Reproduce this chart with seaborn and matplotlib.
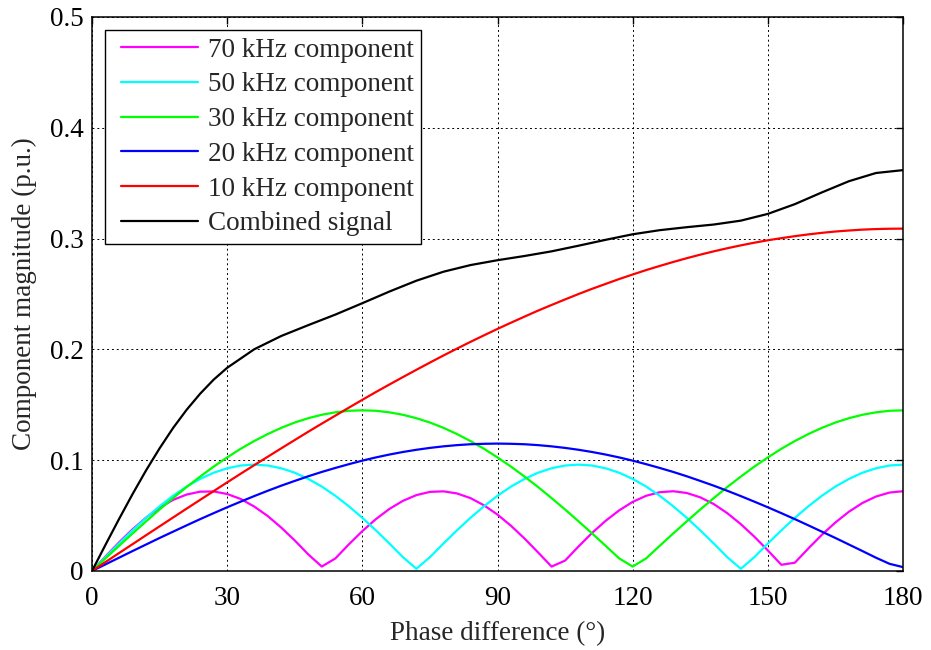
import numpy as np
import pandas as pd
import matplotlib
matplotlib.use("Agg")
import matplotlib.pyplot as plt
from matplotlib.lines import Line2D
from matplotlib.legend_handler import HandlerLine2D
import seaborn as sns

# ---- data ----
phase = list(range(0, 181, 3))

mag_10k = [0, 0.0081, 0.0162, 0.0242, 0.0323, 0.0403, 0.0483, 0.0563, 0.0642, 0.0721,
           0.0800, 0.0878, 0.0955, 0.1031, 0.1107, 0.1182, 0.1257, 0.1330, 0.1402, 0.1474,
           0.1545, 0.1615, 0.1683, 0.1750, 0.1816, 0.1881, 0.1945, 0.2007, 0.2068, 0.2127,
           0.2185, 0.2241, 0.2296, 0.2350, 0.2401, 0.2451, 0.2500, 0.2547, 0.2591, 0.2635,
           0.2676, 0.2716, 0.2753, 0.2789, 0.2823, 0.2855, 0.2885, 0.2913, 0.2939, 0.2963,
           0.2985, 0.3004, 0.3022, 0.3038, 0.3052, 0.3064, 0.3073, 0.3081, 0.3086, 0.3089,
           0.3090]

mag_20k = [0, 0.0060, 0.0120, 0.0180, 0.0239, 0.0298, 0.0355, 0.0412, 0.0468, 0.0522,
           0.0575, 0.0626, 0.0676, 0.0724, 0.0770, 0.0813, 0.0855, 0.0894, 0.0930, 0.0964,
           0.0996, 0.1025, 0.1051, 0.1074, 0.1094, 0.1111, 0.1125, 0.1136, 0.1144, 0.1148,
           0.1150, 0.1148, 0.1144, 0.1136, 0.1125, 0.1111, 0.1094, 0.1074, 0.1051, 0.1025,
           0.0996, 0.0964, 0.0930, 0.0894, 0.0855, 0.0813, 0.0770, 0.0724, 0.0676, 0.0626,
           0.0575, 0.0522, 0.0468, 0.0412, 0.0355, 0.0298, 0.0239, 0.0180, 0.0120, 0.0065,
           0.0035]

mag_30k = [0, 0.0114, 0.0227, 0.0339, 0.0448, 0.0555, 0.0658, 0.0758, 0.0852, 0.0942,
           0.1025, 0.1103, 0.1173, 0.1236, 0.1292, 0.1340, 0.1379, 0.1410, 0.1432, 0.1446,
           0.1450, 0.1446, 0.1432, 0.1410, 0.1379, 0.1340, 0.1292, 0.1236, 0.1173, 0.1103,
           0.1025, 0.0942, 0.0852, 0.0758, 0.0658, 0.0555, 0.0448, 0.0339, 0.0227, 0.0114,
           0.0040, 0.0114, 0.0227, 0.0339, 0.0448, 0.0555, 0.0658, 0.0758, 0.0852, 0.0942,
           0.1025, 0.1103, 0.1173, 0.1236, 0.1292, 0.1340, 0.1379, 0.1410, 0.1432, 0.1446,
           0.1450]

mag_50k = [0, 0.0125, 0.0248, 0.0367, 0.0480, 0.0584, 0.0679, 0.0762, 0.0831, 0.0887,
           0.0927, 0.0952, 0.0960, 0.0952, 0.0927, 0.0887, 0.0831, 0.0762, 0.0679, 0.0584,
           0.0480, 0.0367, 0.0248, 0.0125, 0.0020, 0.0125, 0.0248, 0.0367, 0.0480, 0.0584,
           0.0679, 0.0762, 0.0831, 0.0887, 0.0927, 0.0952, 0.0960, 0.0952, 0.0927, 0.0887,
           0.0831, 0.0762, 0.0679, 0.0584, 0.0480, 0.0367, 0.0248, 0.0125, 0.0020, 0.0125,
           0.0248, 0.0367, 0.0480, 0.0584, 0.0679, 0.0762, 0.0831, 0.0887, 0.0927, 0.0952,
           0.0960]

mag_70k = [0, 0.0131, 0.0258, 0.0376, 0.0482, 0.0571, 0.0642, 0.0690, 0.0716, 0.0718,
           0.0695, 0.0650, 0.0582, 0.0496, 0.0392, 0.0276, 0.0150, 0.0040, 0.0113, 0.0240,
           0.0360, 0.0468, 0.0560, 0.0633, 0.0685, 0.0714, 0.0719, 0.0700, 0.0658, 0.0593,
           0.0509, 0.0408, 0.0293, 0.0168, 0.0040, 0.0094, 0.0222, 0.0344, 0.0453, 0.0547,
           0.0624, 0.0679, 0.0711, 0.0720, 0.0704, 0.0665, 0.0604, 0.0522, 0.0423, 0.0310,
           0.0186, 0.0056, 0.0075, 0.0204, 0.0327, 0.0438, 0.0535, 0.0614, 0.0672, 0.0708,
           0.0720]

phase_comb = [0, 3, 6, 9, 12, 15, 18, 21, 24, 27, 30, 36, 42, 48, 54, 60, 66, 72, 78, 84,
              90, 96, 102, 108, 114, 120, 126, 132, 138, 144, 150, 156, 162, 168, 174, 180]
mag_comb = [0, 0.0237, 0.0469, 0.0694, 0.0908, 0.1107, 0.1291, 0.1455, 0.1600, 0.1727,
            0.1834, 0.2001, 0.2121, 0.2219, 0.2314, 0.2417, 0.2522, 0.2620, 0.2701, 0.2761,
            0.2805, 0.2843, 0.2885, 0.2936, 0.2989, 0.3039, 0.3076, 0.3103, 0.3127, 0.3162,
            0.3223, 0.3311, 0.3417, 0.3518, 0.3592, 0.3618]

labels = ["70 kHz component", "50 kHz component", "30 kHz component",
          "20 kHz component", "10 kHz component", "Combined signal"]
colors = ["#FF00FF", "#00FFFF", "#00FF00", "#0000FF", "#FF0000", "#000000"]
x_ticks = [0, 30, 60, 90, 120, 150, 180]
y_ticks = [0, 0.1, 0.2, 0.3, 0.4, 0.5]
y_tick_labels = ["0", "0.1", "0.2", "0.3", "0.4", "0.5"]

# ---- build tidy table ----
frames = []
for lab, vals in zip(labels[:5], [mag_70k, mag_50k, mag_30k, mag_20k, mag_10k]):
    frames.append(pd.DataFrame({"phase": phase, "mag": vals, "series": lab}))
frames.append(pd.DataFrame({"phase": phase_comb, "mag": mag_comb, "series": labels[5]}))
df = pd.concat(frames, ignore_index=True)

sns.set_theme(style="white")
plt.rcParams["font.family"] = ["Liberation Serif", "DejaVu Serif"]

FS = 19.5

fig = plt.figure(figsize=(9.31, 6.5), dpi=100)
ax = fig.add_axes([92 / 931, 1 - 571 / 650, (903 - 92) / 931, (571 - 17) / 650])

sns.lineplot(data=df, x="phase", y="mag", hue="series", hue_order=labels,
             palette=colors, estimator=None, sort=False, linewidth=1.6, ax=ax)

ax.set_xlim(0, 180)
ax.set_ylim(0, 0.5)
ax.set_xticks(x_ticks)
ax.set_xticklabels([str(t) for t in x_ticks])
ax.set_yticks(y_ticks)
ax.set_yticklabels(y_tick_labels)
ax.grid(True, color="black", linestyle=(0, (2, 3)), linewidth=0.7)
ax.tick_params(direction="in", length=5, width=1, top=True, right=True,
               labelsize=FS, colors="black")
ax.tick_params(axis="x", pad=11)
ax.tick_params(axis="y", pad=6)
for sp in ax.spines.values():
    sp.set_color("black")
    sp.set_linewidth(1.1)

ax.set_xlabel("Phase difference (°)", fontsize=FS, labelpad=7)
ax.set_ylabel("Component magnitude (p.u.)", fontsize=FS, labelpad=9)

handles, labs = ax.get_legend_handles_labels()
leg = ax.legend(handles, labs, loc="upper left", fontsize=FS, frameon=True,
                fancybox=False, edgecolor="black", framealpha=1,
                handlelength=3.14, handletextpad=0.37, labelspacing=0.36,
                borderaxespad=0.48, borderpad=0.28,
                handler_map={Line2D: HandlerLine2D(xpad=0.3)})
leg.get_frame().set_linewidth(1.0)
for line in leg.get_lines():
    line.set_linewidth(1.6)

fig.savefig("out.png", dpi=100)
